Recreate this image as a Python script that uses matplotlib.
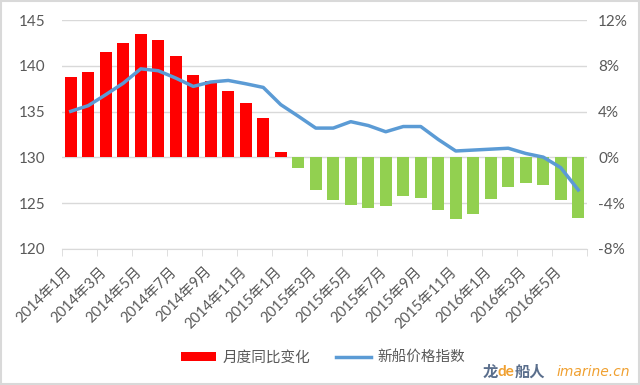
import matplotlib
matplotlib.use("Agg")
import matplotlib.pyplot as plt
from matplotlib.patches import Patch, Rectangle
from matplotlib.lines import Line2D
from matplotlib.transforms import ScaledTranslation
import numpy as np

plt.rcParams['font.family'] = ['Lato', 'Noto Sans CJK SC', 'DejaVu Sans']

months = [f"{y}年{m}月" for y in (2014, 2015, 2016) for m in range(1, 13)][:30]
yoy_change = [7.05, 7.42, 9.2, 10.0, 10.77, 10.25, 8.85, 7.16, 6.67, 5.76, 4.72, 3.4,
              0.5, -0.9, -2.85, -3.75, -4.16, -4.4, -4.25, -3.38, -3.58, -4.6, -5.35,
              -4.98, -3.67, -2.59, -2.24, -2.45, -3.75, -5.3]
price_index = [135.03, 135.65, 136.85, 138.1, 139.67, 139.46, 138.66, 137.75, 138.23,
               138.4, 138.04, 137.64, 135.76, 134.5, 133.2, 133.2, 133.9, 133.48, 132.8,
               133.37, 133.37, 131.96, 130.7, 130.8, 130.9, 131.0, 130.43, 130.03,
               128.88, 126.45]
left_ticks = [120, 125, 130, 135, 140, 145]
right_ticks = [-8, -4, 0, 4, 8, 12]

grey = '#595959'
fig = plt.figure(figsize=(6.4, 3.85), dpi=100)
fig.patches.append(Rectangle((0.002, 0.003), 0.996, 0.994, transform=fig.transFigure,
                             fill=False, edgecolor='#D9D9D9', linewidth=1.5))

ax = fig.add_axes([62/640, 1-249/385, 525/640, 229/385])
ax2 = ax.twinx()
x = np.arange(len(months))
colors = ['#FF0000' if v >= 0 else '#92D050' for v in yoy_change]
ax.bar(x, yoy_change, width=0.68, color=colors, zorder=2)
ax.set_ylim(-8, 12)
ax.set_yticks(right_ticks)
ax.set_yticklabels([f"{t}%" for t in right_ticks])
ax.yaxis.tick_right()
ax.tick_params(axis='y', length=0, pad=8, labelsize=11, labelcolor=grey)
ax.grid(axis='y', color='#D9D9D9', linewidth=1, zorder=0)
ax.set_axisbelow(True)
ax.set_xlim(-0.5, len(months)-0.5)
for s in ['top', 'left', 'right']:
    ax.spines[s].set_visible(False)
ax.spines['bottom'].set_color('#D9D9D9')
ax.set_xticks(x[::2])
ax.set_xticklabels(months[::2], rotation=45, ha='right', rotation_mode='anchor')
ax.tick_params(axis='x', length=0, pad=11, labelsize=10.5, labelcolor=grey)
shift = ScaledTranslation(-6/100, 0, fig.dpi_scale_trans)
for lbl in ax.get_xticklabels():
    lbl.set_transform(lbl.get_transform() + shift)
ax.set_xticks(np.arange(-0.5, len(months), 2), minor=True)
ax.tick_params(axis='x', which='minor', length=5, color='#D9D9D9')

ax2.plot(x, price_index, color='#5B9BD5', linewidth=2.5, zorder=3)
ax2.set_ylim(120, 145)
ax2.set_yticks(left_ticks)
ax2.yaxis.tick_left()
ax2.tick_params(axis='y', length=0, pad=12, labelsize=11, labelcolor=grey)
for s in ax2.spines.values():
    s.set_visible(False)

handles = [Patch(facecolor='#FF0000', edgecolor='none'),
           Line2D([], [], color='#5B9BD5', linewidth=2.5)]
fig.legend(handles, ['月度同比变化', '新船价格指数'], loc='center', bbox_to_anchor=(0.505, 1-358/385),
           ncol=2, frameon=False, fontsize=10.5, handlelength=2.4, handleheight=0.55,
           columnspacing=1.8, handletextpad=0.4, labelcolor=grey)

# watermark
fig.text(483/640, 1-372/385, '龙', color='#5a6e8c', fontsize=11, fontweight='bold', va='center', family=['Noto Sans CJK SC'])
fig.text(498/640, 1-372/385, 'de', color='#F0A030', fontsize=11, fontweight='bold', va='center')
fig.text(515/640, 1-372/385, '船人', color='#5a6e8c', fontsize=11, fontweight='bold', va='center', family=['Noto Sans CJK SC'])
fig.text(557/640, 1-372/385, 'imarine.cn', color='#F0A030', fontsize=10, style='italic', va='center', family=['DejaVu Sans'])

fig.savefig('out.png', dpi=100)
